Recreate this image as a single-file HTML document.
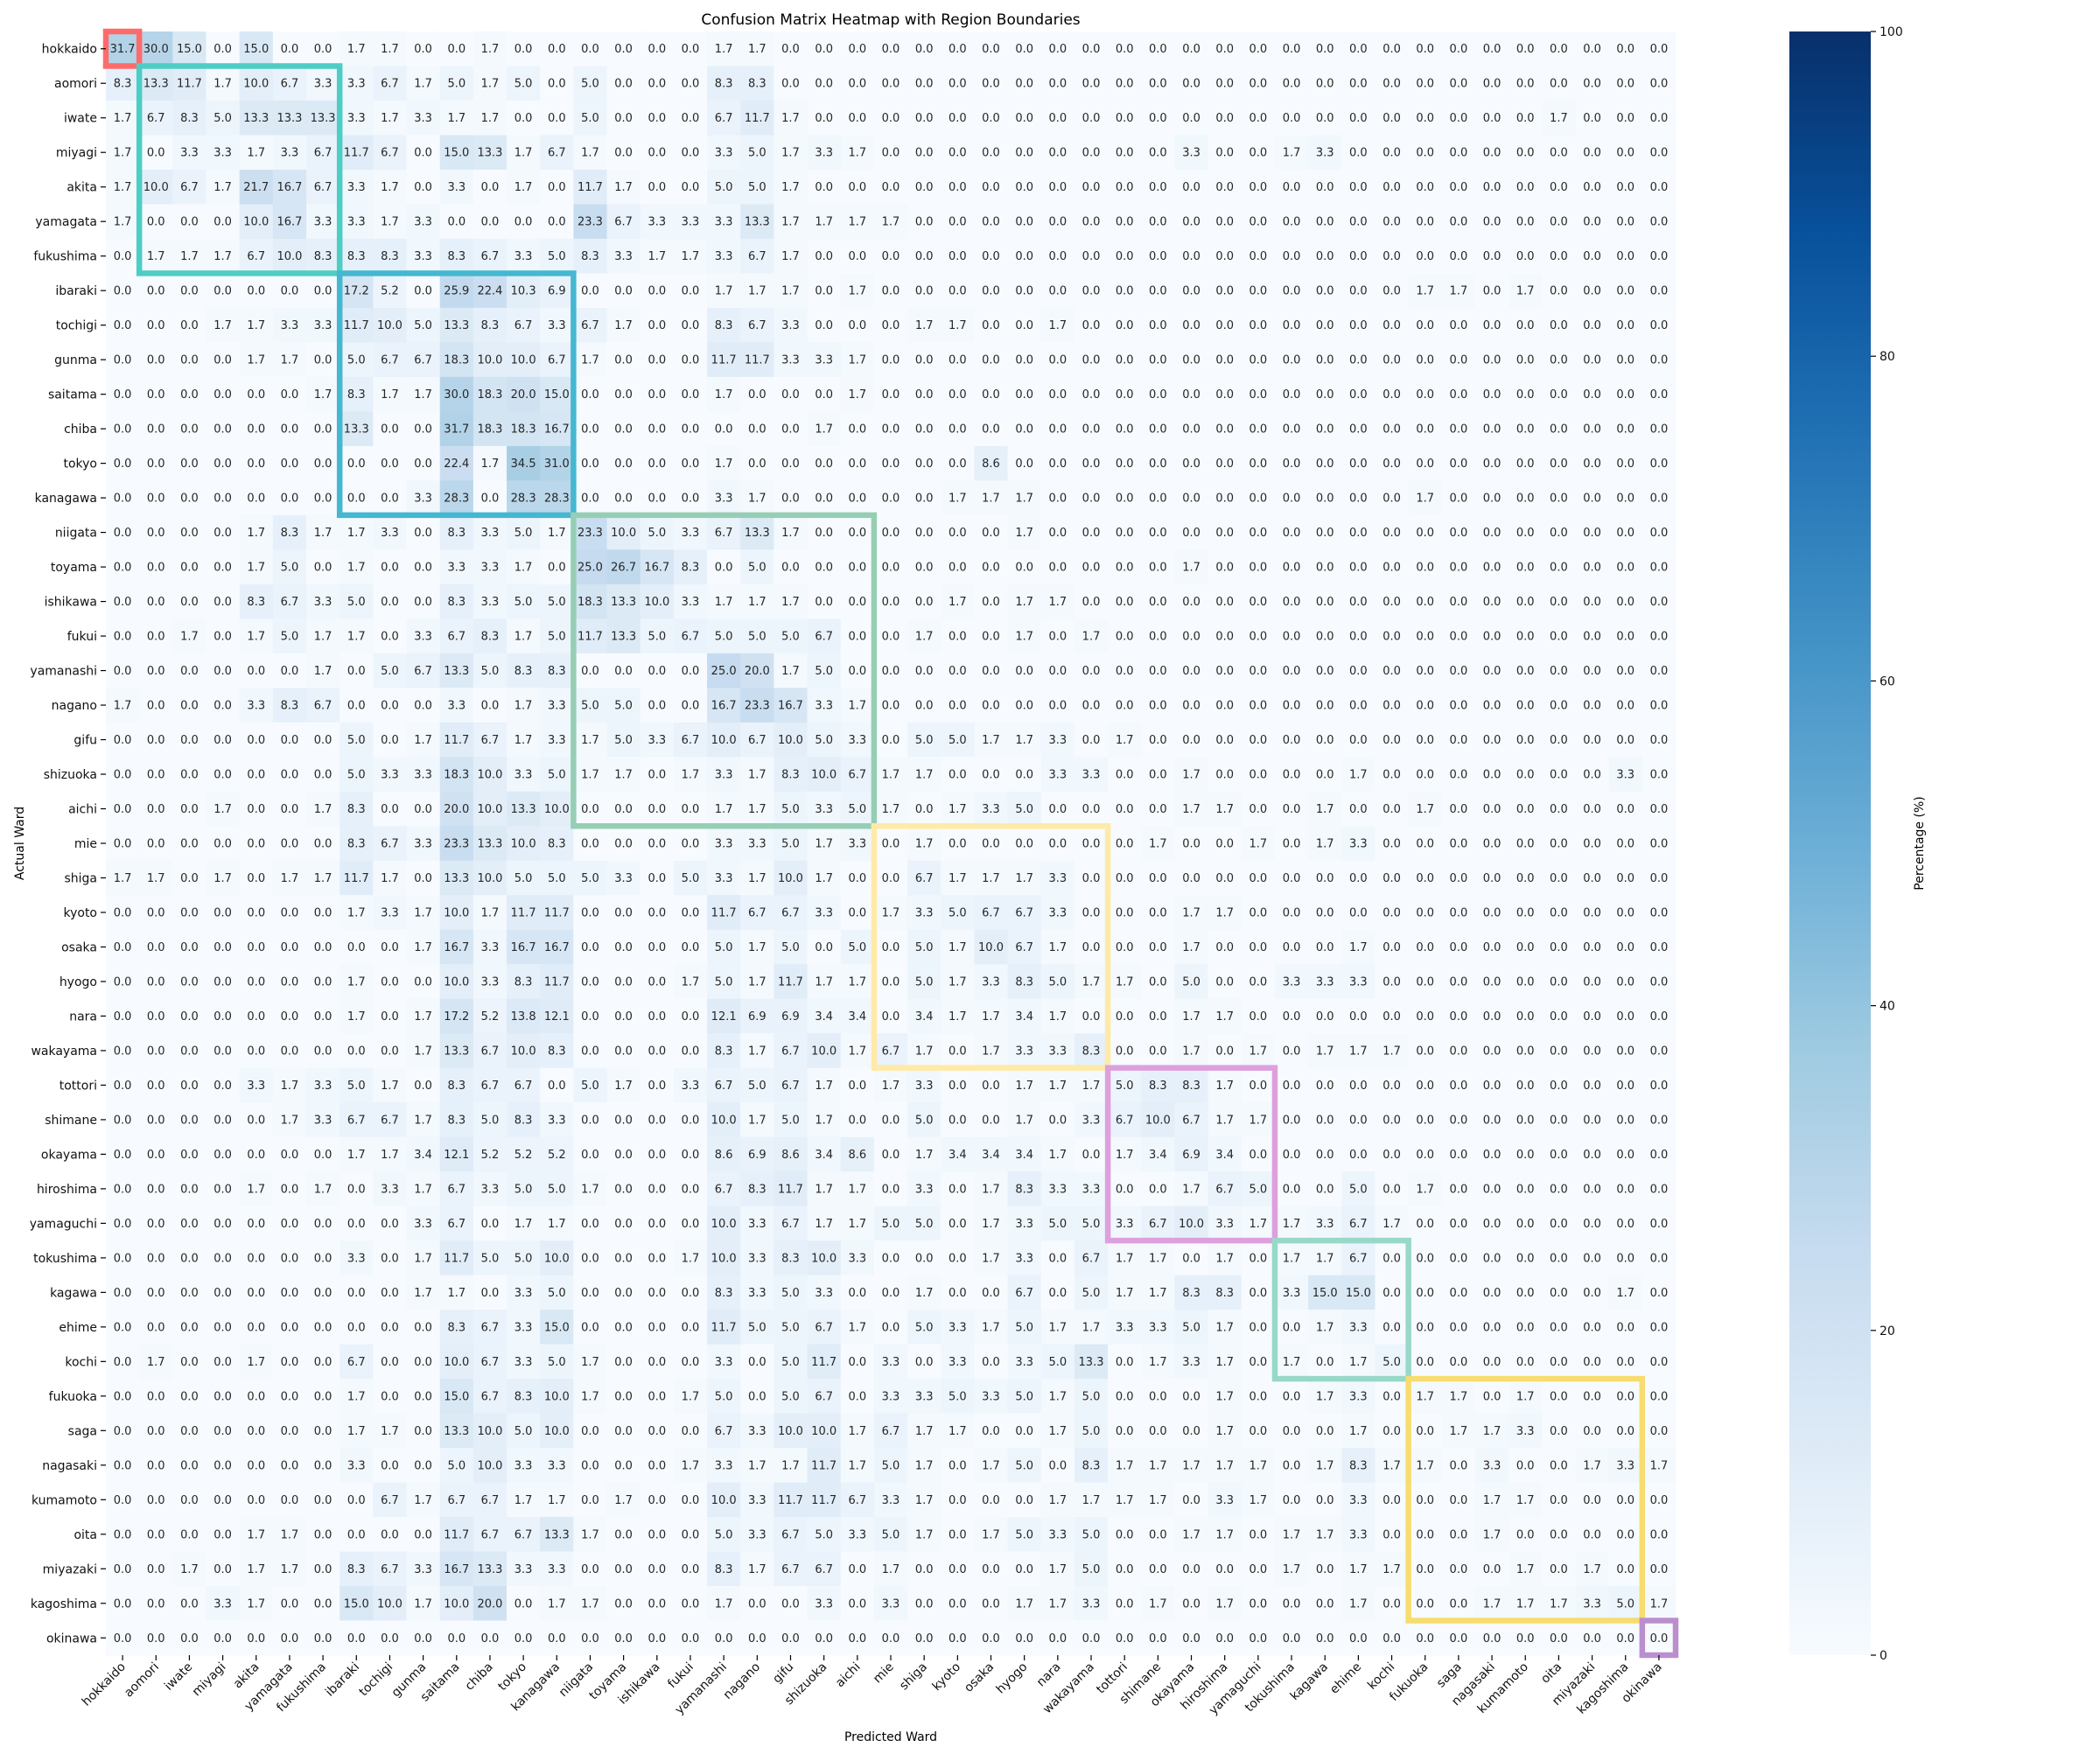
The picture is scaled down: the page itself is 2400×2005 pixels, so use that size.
<!DOCTYPE html>
<html><head><meta charset="utf-8"><style>
body{margin:0;background:#fff;}
svg text{font-family:"DejaVu Sans","Liberation Sans",sans-serif;}
</style></head><body>
<svg id="chart" width="2400" height="2000" xmlns="http://www.w3.org/2000/svg">
<defs><linearGradient id="cbgrad" x1="0" y1="1" x2="0" y2="0">
<stop offset="0" stop-color="#f7fbff"/><stop offset="0.125" stop-color="#deebf7"/><stop offset="0.25" stop-color="#c6dbef"/><stop offset="0.375" stop-color="#9ecae1"/><stop offset="0.5" stop-color="#6baed6"/><stop offset="0.625" stop-color="#4292c6"/><stop offset="0.75" stop-color="#2171b5"/><stop offset="0.875" stop-color="#08519c"/><stop offset="1" stop-color="#08306b"/></linearGradient></defs>
<text x="1018" y="28" text-anchor="middle" font-size="17">Confusion Matrix Heatmap with Region Boundaries</text>
<text x="1018" y="1990" text-anchor="middle" font-size="14">Predicted Ward</text>
<text x="27" y="964" text-anchor="middle" font-size="14" transform="rotate(-90 27 964)">Actual Ward</text>
<g id="cells"></g>
<g id="boxes"></g>
<g id="ticks"></g>
<rect x="2045" y="36" width="93" height="1856" fill="url(#cbgrad)"/>
<g id="cbticks"></g>
<text x="2198" y="964" text-anchor="middle" font-size="14" transform="rotate(-90 2198 964)">Percentage (%)</text>
</svg>
<script>
const labels = ["hokkaido","aomori","iwate","miyagi","akita","yamagata","fukushima","ibaraki","tochigi","gunma","saitama","chiba","tokyo","kanagawa","niigata","toyama","ishikawa","fukui","yamanashi","nagano","gifu","shizuoka","aichi","mie","shiga","kyoto","osaka","hyogo","nara","wakayama","tottori","shimane","okayama","hiroshima","yamaguchi","tokushima","kagawa","ehime","kochi","fukuoka","saga","nagasaki","kumamoto","oita","miyazaki","kagoshima","okinawa"];
const rowsText = [
"31.7 30.0 15.0 0 15.0 0 0 1.7 1.7 0 0 1.7 0 0 0 0 0 0 1.7 1.7 0 0 0 0 0 0 0 0 0 0 0 0 0 0 0 0 0 0 0 0 0 0 0 0 0 0 0",
"8.3 13.3 11.7 1.7 10.0 6.7 3.3 3.3 6.7 1.7 5.0 1.7 5.0 0 5.0 0 0 0 8.3 8.3 0 0 0 0 0 0 0 0 0 0 0 0 0 0 0 0 0 0 0 0 0 0 0 0 0 0 0",
"1.7 6.7 8.3 5.0 13.3 13.3 13.3 3.3 1.7 3.3 1.7 1.7 0 0 5.0 0 0 0 6.7 11.7 1.7 0 0 0 0 0 0 0 0 0 0 0 0 0 0 0 0 0 0 0 0 0 0 1.7 0 0 0",
"1.7 0 3.3 3.3 1.7 3.3 6.7 11.7 6.7 0 15.0 13.3 1.7 6.7 1.7 0 0 0 3.3 5.0 1.7 3.3 1.7 0 0 0 0 0 0 0 0 0 3.3 0 0 1.7 3.3 0 0 0 0 0 0 0 0 0 0",
"1.7 10.0 6.7 1.7 21.7 16.7 6.7 3.3 1.7 0 3.3 0 1.7 0 11.7 1.7 0 0 5.0 5.0 1.7 0 0 0 0 0 0 0 0 0 0 0 0 0 0 0 0 0 0 0 0 0 0 0 0 0 0",
"1.7 0 0 0 10.0 16.7 3.3 3.3 1.7 3.3 0 0 0 0 23.3 6.7 3.3 3.3 3.3 13.3 1.7 1.7 1.7 1.7 0 0 0 0 0 0 0 0 0 0 0 0 0 0 0 0 0 0 0 0 0 0 0",
"0 1.7 1.7 1.7 6.7 10.0 8.3 8.3 8.3 3.3 8.3 6.7 3.3 5.0 8.3 3.3 1.7 1.7 3.3 6.7 1.7 0 0 0 0 0 0 0 0 0 0 0 0 0 0 0 0 0 0 0 0 0 0 0 0 0 0",
"0 0 0 0 0 0 0 17.2 5.2 0 25.9 22.4 10.3 6.9 0 0 0 0 1.7 1.7 1.7 0 1.7 0 0 0 0 0 0 0 0 0 0 0 0 0 0 0 0 1.7 1.7 0 1.7 0 0 0 0",
"0 0 0 1.7 1.7 3.3 3.3 11.7 10.0 5.0 13.3 8.3 6.7 3.3 6.7 1.7 0 0 8.3 6.7 3.3 0 0 0 1.7 1.7 0 0 1.7 0 0 0 0 0 0 0 0 0 0 0 0 0 0 0 0 0 0",
"0 0 0 0 1.7 1.7 0 5.0 6.7 6.7 18.3 10.0 10.0 6.7 1.7 0 0 0 11.7 11.7 3.3 3.3 1.7 0 0 0 0 0 0 0 0 0 0 0 0 0 0 0 0 0 0 0 0 0 0 0 0",
"0 0 0 0 0 0 1.7 8.3 1.7 1.7 30.0 18.3 20.0 15.0 0 0 0 0 1.7 0 0 0 1.7 0 0 0 0 0 0 0 0 0 0 0 0 0 0 0 0 0 0 0 0 0 0 0 0",
"0 0 0 0 0 0 0 13.3 0 0 31.7 18.3 18.3 16.7 0 0 0 0 0 0 0 1.7 0 0 0 0 0 0 0 0 0 0 0 0 0 0 0 0 0 0 0 0 0 0 0 0 0",
"0 0 0 0 0 0 0 0 0 0 22.4 1.7 34.5 31.0 0 0 0 0 1.7 0 0 0 0 0 0 0 8.6 0 0 0 0 0 0 0 0 0 0 0 0 0 0 0 0 0 0 0 0",
"0 0 0 0 0 0 0 0 0 3.3 28.3 0 28.3 28.3 0 0 0 0 3.3 1.7 0 0 0 0 0 1.7 1.7 1.7 0 0 0 0 0 0 0 0 0 0 0 1.7 0 0 0 0 0 0 0",
"0 0 0 0 1.7 8.3 1.7 1.7 3.3 0 8.3 3.3 5.0 1.7 23.3 10.0 5.0 3.3 6.7 13.3 1.7 0 0 0 0 0 0 1.7 0 0 0 0 0 0 0 0 0 0 0 0 0 0 0 0 0 0 0",
"0 0 0 0 1.7 5.0 0 1.7 0 0 3.3 3.3 1.7 0 25.0 26.7 16.7 8.3 0 5.0 0 0 0 0 0 0 0 0 0 0 0 0 1.7 0 0 0 0 0 0 0 0 0 0 0 0 0 0",
"0 0 0 0 8.3 6.7 3.3 5.0 0 0 8.3 3.3 5.0 5.0 18.3 13.3 10.0 3.3 1.7 1.7 1.7 0 0 0 0 1.7 0 1.7 1.7 0 0 0 0 0 0 0 0 0 0 0 0 0 0 0 0 0 0",
"0 0 1.7 0 1.7 5.0 1.7 1.7 0 3.3 6.7 8.3 1.7 5.0 11.7 13.3 5.0 6.7 5.0 5.0 5.0 6.7 0 0 1.7 0 0 1.7 0 1.7 0 0 0 0 0 0 0 0 0 0 0 0 0 0 0 0 0",
"0 0 0 0 0 0 1.7 0 5.0 6.7 13.3 5.0 8.3 8.3 0 0 0 0 25.0 20.0 1.7 5.0 0 0 0 0 0 0 0 0 0 0 0 0 0 0 0 0 0 0 0 0 0 0 0 0 0",
"1.7 0 0 0 3.3 8.3 6.7 0 0 0 3.3 0 1.7 3.3 5.0 5.0 0 0 16.7 23.3 16.7 3.3 1.7 0 0 0 0 0 0 0 0 0 0 0 0 0 0 0 0 0 0 0 0 0 0 0 0",
"0 0 0 0 0 0 0 5.0 0 1.7 11.7 6.7 1.7 3.3 1.7 5.0 3.3 6.7 10.0 6.7 10.0 5.0 3.3 0 5.0 5.0 1.7 1.7 3.3 0 1.7 0 0 0 0 0 0 0 0 0 0 0 0 0 0 0 0",
"0 0 0 0 0 0 0 5.0 3.3 3.3 18.3 10.0 3.3 5.0 1.7 1.7 0 1.7 3.3 1.7 8.3 10.0 6.7 1.7 1.7 0 0 0 3.3 3.3 0 0 1.7 0 0 0 0 1.7 0 0 0 0 0 0 0 3.3 0",
"0 0 0 1.7 0 0 1.7 8.3 0 0 20.0 10.0 13.3 10.0 0 0 0 0 1.7 1.7 5.0 3.3 5.0 1.7 0 1.7 3.3 5.0 0 0 0 0 1.7 1.7 0 0 1.7 0 0 1.7 0 0 0 0 0 0 0",
"0 0 0 0 0 0 0 8.3 6.7 3.3 23.3 13.3 10.0 8.3 0 0 0 0 3.3 3.3 5.0 1.7 3.3 0 1.7 0 0 0 0 0 0 1.7 0 0 1.7 0 1.7 3.3 0 0 0 0 0 0 0 0 0",
"1.7 1.7 0 1.7 0 1.7 1.7 11.7 1.7 0 13.3 10.0 5.0 5.0 5.0 3.3 0 5.0 3.3 1.7 10.0 1.7 0 0 6.7 1.7 1.7 1.7 3.3 0 0 0 0 0 0 0 0 0 0 0 0 0 0 0 0 0 0",
"0 0 0 0 0 0 0 1.7 3.3 1.7 10.0 1.7 11.7 11.7 0 0 0 0 11.7 6.7 6.7 3.3 0 1.7 3.3 5.0 6.7 6.7 3.3 0 0 0 1.7 1.7 0 0 0 0 0 0 0 0 0 0 0 0 0",
"0 0 0 0 0 0 0 0 0 1.7 16.7 3.3 16.7 16.7 0 0 0 0 5.0 1.7 5.0 0 5.0 0 5.0 1.7 10.0 6.7 1.7 0 0 0 1.7 0 0 0 0 1.7 0 0 0 0 0 0 0 0 0",
"0 0 0 0 0 0 0 1.7 0 0 10.0 3.3 8.3 11.7 0 0 0 1.7 5.0 1.7 11.7 1.7 1.7 0 5.0 1.7 3.3 8.3 5.0 1.7 1.7 0 5.0 0 0 3.3 3.3 3.3 0 0 0 0 0 0 0 0 0",
"0 0 0 0 0 0 0 1.7 0 1.7 17.2 5.2 13.8 12.1 0 0 0 0 12.1 6.9 6.9 3.4 3.4 0 3.4 1.7 1.7 3.4 1.7 0 0 0 1.7 1.7 0 0 0 0 0 0 0 0 0 0 0 0 0",
"0 0 0 0 0 0 0 0 0 1.7 13.3 6.7 10.0 8.3 0 0 0 0 8.3 1.7 6.7 10.0 1.7 6.7 1.7 0 1.7 3.3 3.3 8.3 0 0 1.7 0 1.7 0 1.7 1.7 1.7 0 0 0 0 0 0 0 0",
"0 0 0 0 3.3 1.7 3.3 5.0 1.7 0 8.3 6.7 6.7 0 5.0 1.7 0 3.3 6.7 5.0 6.7 1.7 0 1.7 3.3 0 0 1.7 1.7 1.7 5.0 8.3 8.3 1.7 0 0 0 0 0 0 0 0 0 0 0 0 0",
"0 0 0 0 0 1.7 3.3 6.7 6.7 1.7 8.3 5.0 8.3 3.3 0 0 0 0 10.0 1.7 5.0 1.7 0 0 5.0 0 0 1.7 0 3.3 6.7 10.0 6.7 1.7 1.7 0 0 0 0 0 0 0 0 0 0 0 0",
"0 0 0 0 0 0 0 1.7 1.7 3.4 12.1 5.2 5.2 5.2 0 0 0 0 8.6 6.9 8.6 3.4 8.6 0 1.7 3.4 3.4 3.4 1.7 0 1.7 3.4 6.9 3.4 0 0 0 0 0 0 0 0 0 0 0 0 0",
"0 0 0 0 1.7 0 1.7 0 3.3 1.7 6.7 3.3 5.0 5.0 1.7 0 0 0 6.7 8.3 11.7 1.7 1.7 0 3.3 0 1.7 8.3 3.3 3.3 0 0 1.7 6.7 5.0 0 0 5.0 0 1.7 0 0 0 0 0 0 0",
"0 0 0 0 0 0 0 0 0 3.3 6.7 0 1.7 1.7 0 0 0 0 10.0 3.3 6.7 1.7 1.7 5.0 5.0 0 1.7 3.3 5.0 5.0 3.3 6.7 10.0 3.3 1.7 1.7 3.3 6.7 1.7 0 0 0 0 0 0 0 0",
"0 0 0 0 0 0 0 3.3 0 1.7 11.7 5.0 5.0 10.0 0 0 0 1.7 10.0 3.3 8.3 10.0 3.3 0 0 0 1.7 3.3 0 6.7 1.7 1.7 0 1.7 0 1.7 1.7 6.7 0 0 0 0 0 0 0 0 0",
"0 0 0 0 0 0 0 0 0 1.7 1.7 0 3.3 5.0 0 0 0 0 8.3 3.3 5.0 3.3 0 0 1.7 0 0 6.7 0 5.0 1.7 1.7 8.3 8.3 0 3.3 15.0 15.0 0 0 0 0 0 0 0 1.7 0",
"0 0 0 0 0 0 0 0 0 0 8.3 6.7 3.3 15.0 0 0 0 0 11.7 5.0 5.0 6.7 1.7 0 5.0 3.3 1.7 5.0 1.7 1.7 3.3 3.3 5.0 1.7 0 0 1.7 3.3 0 0 0 0 0 0 0 0 0",
"0 1.7 0 0 1.7 0 0 6.7 0 0 10.0 6.7 3.3 5.0 1.7 0 0 0 3.3 0 5.0 11.7 0 3.3 0 3.3 0 3.3 5.0 13.3 0 1.7 3.3 1.7 0 1.7 0 1.7 5.0 0 0 0 0 0 0 0 0",
"0 0 0 0 0 0 0 1.7 0 0 15.0 6.7 8.3 10.0 1.7 0 0 1.7 5.0 0 5.0 6.7 0 3.3 3.3 5.0 3.3 5.0 1.7 5.0 0 0 0 1.7 0 0 1.7 3.3 0 1.7 1.7 0 1.7 0 0 0 0",
"0 0 0 0 0 0 0 1.7 1.7 0 13.3 10.0 5.0 10.0 0 0 0 0 6.7 3.3 10.0 10.0 1.7 6.7 1.7 1.7 0 0 1.7 5.0 0 0 0 1.7 0 0 0 1.7 0 0 1.7 1.7 3.3 0 0 0 0",
"0 0 0 0 0 0 0 3.3 0 0 5.0 10.0 3.3 3.3 0 0 0 1.7 3.3 1.7 1.7 11.7 1.7 5.0 1.7 0 1.7 5.0 0 8.3 1.7 1.7 1.7 1.7 1.7 0 1.7 8.3 1.7 1.7 0 3.3 0 0 1.7 3.3 1.7",
"0 0 0 0 0 0 0 0 6.7 1.7 6.7 6.7 1.7 1.7 0 1.7 0 0 10.0 3.3 11.7 11.7 6.7 3.3 1.7 0 0 0 1.7 1.7 1.7 1.7 0 3.3 1.7 0 0 3.3 0 0 0 1.7 1.7 0 0 0 0",
"0 0 0 0 1.7 1.7 0 0 0 0 11.7 6.7 6.7 13.3 1.7 0 0 0 5.0 3.3 6.7 5.0 3.3 5.0 1.7 0 1.7 5.0 3.3 5.0 0 0 1.7 1.7 0 1.7 1.7 3.3 0 0 0 1.7 0 0 0 0 0",
"0 0 1.7 0 1.7 1.7 0 8.3 6.7 3.3 16.7 13.3 3.3 3.3 0 0 0 0 8.3 1.7 6.7 6.7 0 1.7 0 0 0 0 1.7 5.0 0 0 0 0 0 1.7 0 1.7 1.7 0 0 0 1.7 0 1.7 0 0",
"0 0 0 3.3 1.7 0 0 15.0 10.0 1.7 10.0 20.0 0 1.7 1.7 0 0 0 1.7 0 0 3.3 0 3.3 0 0 0 1.7 1.7 3.3 0 1.7 0 1.7 0 0 0 1.7 0 0 0 1.7 1.7 1.7 3.3 5.0 1.7",
"0 0 0 0 0 0 0 0 0 0 0 0 0 0 0 0 0 0 0 0 0 0 0 0 0 0 0 0 0 0 0 0 0 0 0 0 0 0 0 0 0 0 0 0 0 0 0"
];
const values = rowsText.map(r => r.trim().split(/\s+/).map(Number));
const regionStarts = [0,1,7,14,23,30,35,39,46];
const regionEnds   = [0,6,13,22,29,34,38,45,46];
const regionColors = ["#ff6b6b","#4ecdc4","#45b7d1","#96ceb4","#ffeaa7","#dda0dd","#98d8c8","#f7dc6f","#bb8fce"];
const cbTicks = [0,20,40,60,80,100];

const NS="http://www.w3.org/2000/svg";
const X0=121,X1=1915,Y0=36,Y1=1892,N=labels.length;
const cw=(X1-X0)/N, ch=(Y1-Y0)/N;
const xs=i=>X0+i*cw, ys=i=>Y0+i*ch;
const stops=[[247,251,255],[222,235,247],[198,219,239],[158,202,225],[107,174,214],[66,146,198],[33,113,181],[8,81,156],[8,48,107]];
function color(v){let t=Math.max(0,Math.min(1,v/100))*8;let i=Math.min(7,Math.floor(t)),f=t-i;
 const a=stops[i],b=stops[i+1];return `rgb(${a.map((c,k)=>Math.round(c+(b[k]-c)*f)).join(',')})`;}
function mk(tag,attrs,parent){const e=document.createElementNS(NS,tag);for(const k in attrs)e.setAttribute(k,attrs[k]);parent.appendChild(e);return e;}
const gC=document.getElementById('cells');
for(let r=0;r<N;r++)for(let c=0;c<N;c++){
 const v=values[r][c];
 const rc=mk('rect',{x:xs(c),y:ys(r),width:cw+0.6,height:ch+0.6,fill:color(v)},gC);
 
 
 const t=mk('text',{x:xs(c)+cw/2,y:ys(r)+ch/2+4.5,'text-anchor':'middle','font-size':'13',fill:v>60?'#ffffff':'#262626'},gC);
 
 
 t.textContent=v.toFixed(1);
}
const gB=document.getElementById('boxes');
for(let k=0;k<regionStarts.length;k++){
 const a=regionStarts[k],b=regionEnds[k]+1;
 const bx=mk('rect',{x:xs(a),y:ys(a),width:xs(b)-xs(a),height:ys(b)-ys(a),fill:'none',stroke:regionColors[k],'stroke-width':6.5},gB);
 
 
}
const gT=document.getElementById('ticks');
for(let i=0;i<N;i++){
 const cy=ys(i)+ch/2, cx=xs(i)+cw/2;
 mk('line',{x1:X0-6,x2:X0,y1:cy,y2:cy,stroke:'#000','stroke-width':1.2},gT);
 const yl=mk('text',{x:X0-10,y:cy+5,'text-anchor':'end','font-size':'14',fill:'#111'},gT);
 
 
 yl.textContent=labels[i];
 mk('line',{x1:cx,x2:cx,y1:Y1,y2:Y1+6,stroke:'#000','stroke-width':1.2},gT);
 const xl=mk('text',{x:cx+4,y:Y1+14,'text-anchor':'end','font-size':'14',fill:'#111',transform:`rotate(-45 ${cx+4} ${Y1+14})`},gT);
 
 
 xl.textContent=labels[i];
}
const gCB=document.getElementById('cbticks');
for(const v of cbTicks){
 const y=Y1-(v/100)*(Y1-Y0);
 mk('line',{x1:2138,x2:2144,y1:y,y2:y,stroke:'#000','stroke-width':1.2},gCB);
 const t=mk('text',{x:2148,y:y+5,'font-size':'14',fill:'#111'},gCB);
 
 
 t.textContent=v;
}
</script>
</body></html>
